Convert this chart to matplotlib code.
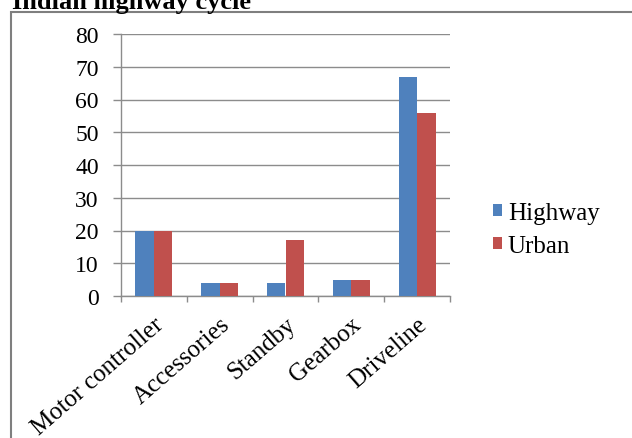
import matplotlib.pyplot as plt
import numpy as np
from matplotlib.patches import Rectangle

categories = ['Motor controller', 'Accessories', 'Standby', 'Gearbox', 'Driveline']
highway = [20, 4, 4, 5, 67]
urban = [20, 4, 17, 5, 56]

blue = '#4F81BD'
red = '#C0504D'
grey = '#8c8c8c'

plt.rcParams['font.family'] = ['Liberation Serif', 'DejaVu Serif']

fig = plt.figure(figsize=(6.32, 4.39), dpi=100)

# chart frame, runs off the right and bottom edges
fig.patches.append(Rectangle((11 / 632, -0.05), 1.0, 1 - 13 / 439 + 0.05,
                             transform=fig.transFigure, fill=False,
                             edgecolor='#7f7f7f', linewidth=1.5))
fig.text(12 / 632, 1 - 9 / 439, 'Indian highway cycle', fontsize=19, fontweight='bold',
         ha='left', va='baseline')

ax = fig.add_axes([121 / 632, 1 - 297 / 439, (450 - 121) / 632, (297 - 35) / 439])

x = np.arange(len(categories))
w = 0.28
ax.bar(x - w / 2, highway, w, color=blue, label='Highway', zorder=3)
ax.bar(x + w / 2, urban, w, color=red, label='Urban', zorder=3)

ax.set_xlim(-0.5, len(categories) - 0.5)
ax.set_ylim(0, 80)
ax.set_yticks(range(0, 81, 10))
ax.yaxis.grid(True, color=grey, linewidth=1, zorder=0)
ax.tick_params(axis='y', length=6, width=1, color=grey, labelsize=17, pad=10)

ax.set_xticks(x)
ax.set_xticklabels(categories, rotation=41, ha='right', rotation_mode='anchor',
                   fontsize=18)
ax.set_xticks(np.arange(-0.5, len(categories), 1), minor=True)
ax.tick_params(axis='x', which='major', length=0, pad=12)
ax.tick_params(axis='x', which='minor', length=4, width=1, color=grey)

for side in ['top', 'right']:
    ax.spines[side].set_visible(False)
for side in ['left', 'bottom']:
    ax.spines[side].set_color(grey)
    ax.spines[side].set_linewidth(1)

ax.legend(loc='center left', bbox_to_anchor=(1.1, 0.255), frameon=False,
          fontsize=18, handlelength=0.35, handleheight=0.35, handletextpad=0.25,
          labelspacing=0.45, borderaxespad=0)

plt.savefig('out.png', dpi=100)
